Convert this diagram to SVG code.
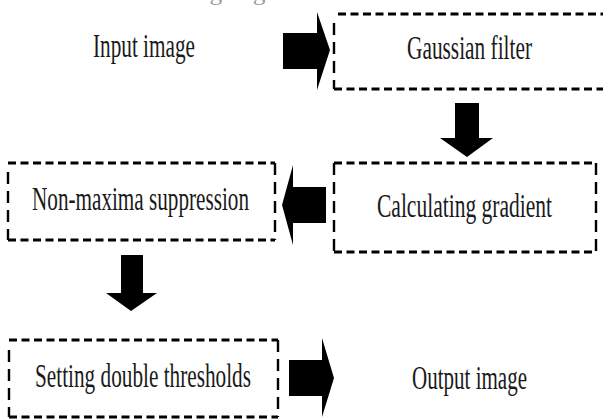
<svg xmlns="http://www.w3.org/2000/svg" width="603" height="420" viewBox="0 0 603 420">
<style>
.t{font-family:"Liberation Serif","Times New Roman",serif;font-size:34px;fill:#1a1a1a}
.h{stroke:#000;stroke-width:3;stroke-dasharray:8 4.5;fill:none}
.v{stroke:#000;stroke-width:2.4;stroke-dasharray:12 7;fill:none}
.a{fill:#000}
</style>
<rect width="603" height="420" fill="#fff"/>
<text class="t" x="23" y="-0.5" textLength="270" lengthAdjust="spacingAndGlyphs" style="font-size:20px;fill:#999">connected to strong edges.</text>
<g id="input"><text class="t" x="93" y="57" textLength="102" lengthAdjust="spacingAndGlyphs">Input image</text></g>
<g id="gaussian">
<line class="h" x1="338" y1="14" x2="610" y2="14"/>
<line class="h" x1="334" y1="89" x2="610" y2="89"/>
<line class="v" x1="334" y1="23" x2="334" y2="89"/>
<text class="t" x="407" y="59" textLength="125" lengthAdjust="spacingAndGlyphs">Gaussian filter</text>
</g>
<g id="gradient">
<line class="h" x1="334" y1="163" x2="596" y2="163"/>
<line class="h" x1="334" y1="252" x2="596" y2="252"/>
<line class="v" x1="334" y1="163" x2="334" y2="252"/>
<line class="v" x1="596" y1="163" x2="596" y2="252"/>
<text class="t" x="377" y="217" textLength="175" lengthAdjust="spacingAndGlyphs">Calculating gradient</text>
</g>
<g id="nonmax">
<line class="h" x1="8" y1="163" x2="275" y2="163"/>
<line class="h" x1="8" y1="240" x2="275" y2="240"/>
<line class="v" x1="8" y1="172" x2="8" y2="240"/>
<line class="v" x1="275" y1="163" x2="275" y2="240"/>
<text class="t" x="32" y="210" textLength="217" lengthAdjust="spacingAndGlyphs">Non-maxima suppression</text>
</g>
<g id="thresholds">
<line class="h" x1="9" y1="340" x2="278" y2="340"/>
<line class="h" x1="9" y1="417" x2="278" y2="417"/>
<line class="v" x1="9" y1="350" x2="9" y2="417"/>
<line class="v" x1="278" y1="340" x2="278" y2="417"/>
<text class="t" x="35" y="387" textLength="216" lengthAdjust="spacingAndGlyphs">Setting double thresholds</text>
</g>
<g id="output"><text class="t" x="412" y="389" textLength="115" lengthAdjust="spacingAndGlyphs">Output image</text></g>
<g id="connectors">
<polygon class="a" points="283,33 317,33 317,12 330,50 317,90 317,69 283,69"/>
<polygon class="a" points="455,103 479,103 479,138 493,138 467,157 440,138 455,138"/>
<polygon class="a" points="326,187 293,187 293,165 282,205 293,245 293,223 326,223"/>
<polygon class="a" points="121,255 143,255 143,293 157,293 131,311 106,293 121,293"/>
<polygon class="a" points="289,360 322,360 322,338 334,378 322,417 322,396 289,396"/>
</g>
</svg>
